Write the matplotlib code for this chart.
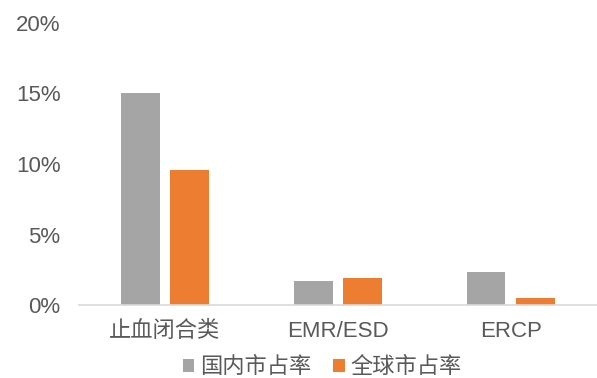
import numpy as np
import matplotlib.pyplot as plt
from matplotlib.ticker import FuncFormatter

plt.rcParams['font.family'] = ['Liberation Sans', 'Noto Sans CJK SC', 'DejaVu Sans']

categories = ['止血闭合类', 'EMR/ESD', 'ERCP']
domestic = [15.0, 1.75, 2.35]   # 国内市占率 (%)
world = [9.55, 1.95, 0.5]       # 全球市占率 (%)
series_names = ['国内市占率', '全球市占率']

fig = plt.figure(figsize=(5.97, 3.78), dpi=100)
ax = fig.add_axes([0.1315, 0.192, 0.8685, 0.748])

x = np.arange(len(categories))
w = 0.225
off = 0.142
ax.bar(x - off, domestic, w, color='#A5A5A5', label=series_names[0])
ax.bar(x + off, world, w, color='#ED7D31', label=series_names[1])

ax.set_xlim(-0.5, 2.5)
ax.set_ylim(0, 20)
ax.set_yticks([0, 5, 10, 15, 20])
ax.yaxis.set_major_formatter(FuncFormatter(lambda v, p: '%d%%' % v))
ax.set_xticks(x)
ax.set_xticklabels(categories)

for s in ['top', 'right', 'left']:
    ax.spines[s].set_visible(False)
ax.spines['bottom'].set_color('#D9D9D9')
ax.spines['bottom'].set_linewidth(1.2)
ax.tick_params(axis='both', length=0, labelsize=16, colors='#595959')
ax.tick_params(axis='x', pad=11)
ax.tick_params(axis='y', pad=13)

leg = fig.legend(loc='center', bbox_to_anchor=(0.54, 0.027), ncol=2, frameon=False,
                 fontsize=16, handlelength=0.5, handleheight=0.5, handletextpad=0.25,
                 columnspacing=1.0, borderpad=0)
for t in leg.get_texts():
    t.set_color('#595959')

fig.savefig('out.png', dpi=100)
